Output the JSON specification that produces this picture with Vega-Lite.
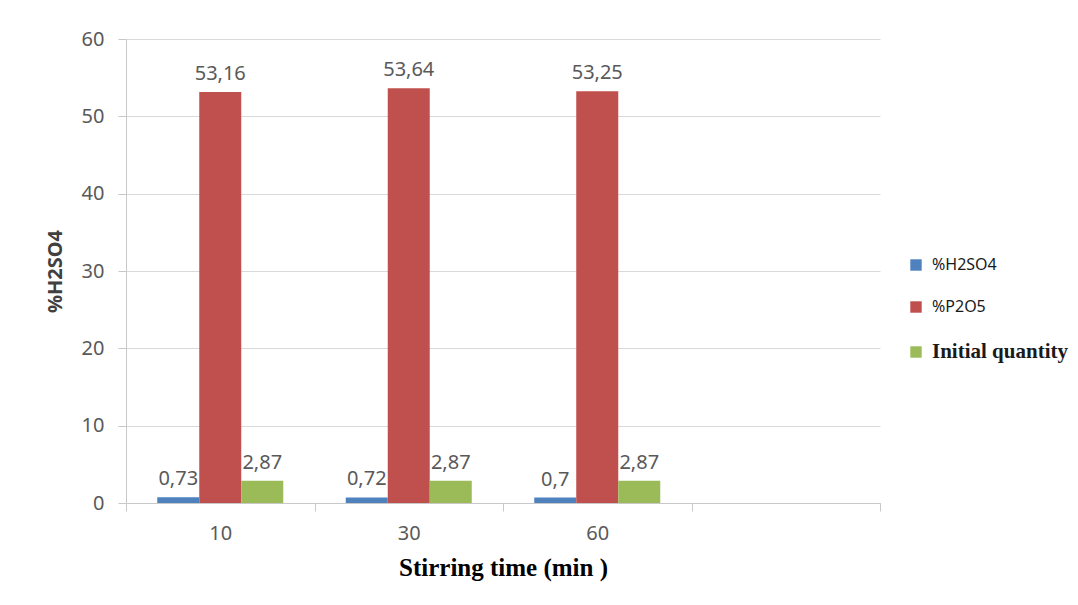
{
  "$schema": "https://vega.github.io/schema/vega-lite/v6.json",
  "width": 754,
  "height": 464,
  "autosize": "none",
  "padding": {"left": 126, "top": 39, "right": 198, "bottom": 102},
  "background": "white",
  "config": {
    "view": {"stroke": null},
    "locale": {"number": {"decimal": ",", "thousands": ".", "grouping": [3], "currency": ["", ""]}},
    "axis": {"labelColor": "#595959", "labelFont": "Noto Sans", "labelFontSize": 20, "labelFontWeight": "normal", "domainColor": "#c8c8c8", "tickColor": "#c8c8c8", "gridColor": "#d9d9d9", "tickSize": 8}
  },
  "data": {
    "values": [
      {"time": "10", "series": "%H2SO4", "value": 0.73},
      {"time": "10", "series": "%P2O5", "value": 53.16},
      {"time": "10", "series": "Initial quantity", "value": 2.87},
      {"time": "30", "series": "%H2SO4", "value": 0.72},
      {"time": "30", "series": "%P2O5", "value": 53.64},
      {"time": "30", "series": "Initial quantity", "value": 2.87},
      {"time": "60", "series": "%H2SO4", "value": 0.70},
      {"time": "60", "series": "%P2O5", "value": 53.25},
      {"time": "60", "series": "Initial quantity", "value": 2.87}
    ]
  },
  "encoding": {
    "x": {
      "field": "time", "type": "nominal",
      "scale": {"domain": ["10", "30", "60", "_"], "paddingInner": 0, "paddingOuter": 0},
      "axis": {"labelAngle": 0, "labelExpr": "datum.value == '_' ? '' : datum.value", "tickBand": "extent", "grid": false, "labelPadding": 12,
        "title": "Stirring time  (min )", "titleFont": "Liberation Serif", "titleFontSize": 25, "titleFontWeight": "bold", "titleColor": "#000000", "titlePadding": 12}
    },
    "xOffset": {"field": "series", "type": "nominal", "scale": {"domain": ["%H2SO4", "%P2O5", "Initial quantity"], "paddingInner": 0, "paddingOuter": 0.744}},
    "y": {
      "field": "value", "type": "quantitative",
      "scale": {"domain": [0, 60], "nice": false},
      "axis": {"values": [0, 10, 20, 30, 40, 50, 60], "labelOverlap": false, "labelPadding": 14, "title": "%H2SO4", "titleFont": "Noto Sans", "titleFontSize": 20, "titleFontWeight": "bold", "titleColor": "#404040", "titlePadding": 16}
    }
  },
  "layer": [
    {
      "mark": {"type": "bar"},
      "encoding": {
        "color": {
          "field": "series", "type": "nominal",
          "scale": {"domain": ["%H2SO4", "%P2O5", "Initial quantity"], "range": ["#4F81BD", "#C0504D", "#9BBB59"]},
          "legend": {"title": null, "orient": "none", "legendX": 782, "legendY": 218, "symbolType": "square", "symbolSize": 130, "symbolStrokeWidth": 0,
            "labelFont": {"expr": "datum.label == 'Initial quantity' ? 'Liberation Serif' : 'Noto Sans'"},
            "labelFontWeight": {"expr": "datum.label == 'Initial quantity' ? 'bold' : 'normal'"},
            "labelFontSize": {"expr": "datum.label == 'Initial quantity' ? 21 : 16"},
            "labelLimit": 300,
            "labelColor": "#1a1a1a", "rowPadding": 26, "labelOffset": 8}
        }
      }
    },
    {
      "mark": {"type": "text", "baseline": "bottom", "dy": -8, "font": "Noto Sans", "fontSize": 20, "color": "#595959"},
      "encoding": {"text": {"field": "value", "type": "quantitative", "format": "~g"}}
    }
  ]
}
